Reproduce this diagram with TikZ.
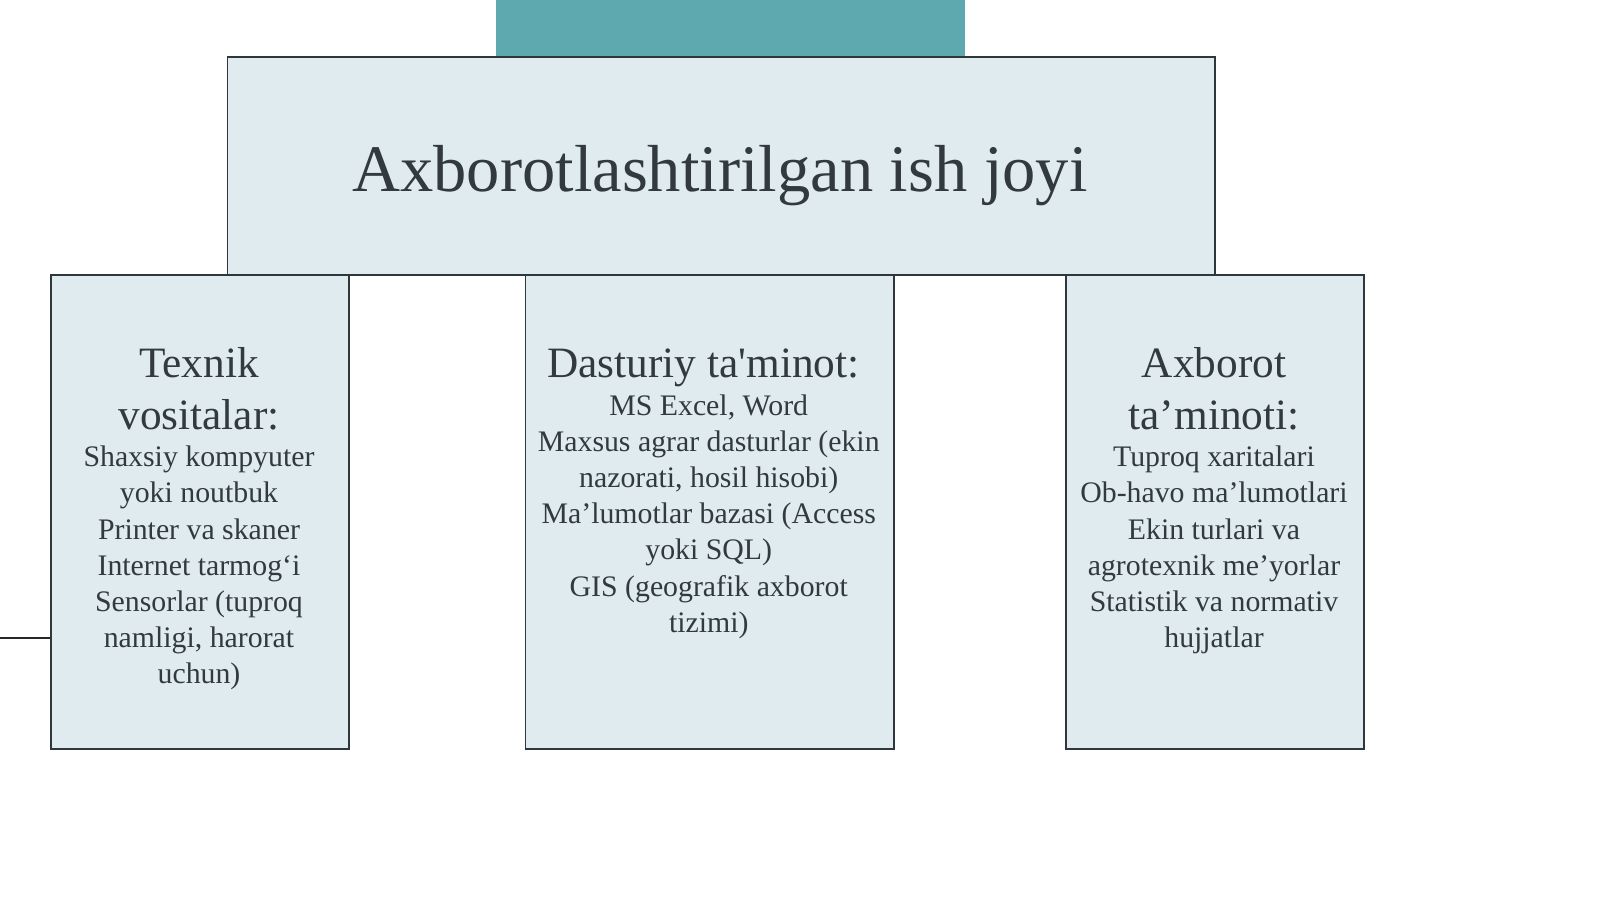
\documentclass[tikz,border=0pt]{standalone}
\usepackage{fontspec}
\setmainfont{Liberation Serif}
\definecolor{tealc}{RGB}{94,168,176}
\definecolor{boxfill}{RGB}{223,235,238}
\definecolor{linec}{RGB}{45,55,60}
\definecolor{txtc}{RGB}{50,58,61}
\newcommand\sqt{\XeTeXglyph\XeTeXcharglyph"0027 }
\begin{document}
\begin{tikzpicture}[x=1pt,y=-1pt,
  box/.style={draw=linec, line width=1.9pt, fill=boxfill, inner sep=0pt, anchor=north west},
  ttl/.style={text=txtc, font=\fontsize{66.5}{80}\selectfont, anchor=base, inner sep=0pt},
  head/.style={text=txtc, font=\fontsize{43.3}{52}\selectfont, anchor=base, inner sep=0pt},
  body/.style={text=txtc, font=\fontsize{29.8}{36}\selectfont, anchor=base, inner sep=0pt}]
\useasboundingbox (0,0) rectangle (1600,899);
\fill[white] (0,0) rectangle (1600,899);
% tab on top
\node[fill=tealc, inner sep=0pt, minimum width=469pt, minimum height=56pt, anchor=north west] (tab) at (496,0) {};
% main box
\node[box, minimum width=987.5pt, minimum height=218pt] (M) at (226.5,56) {};
\node[ttl] (Mt) at (720,191.7) {Axborotlashtirilgan ish joyi};
% child boxes
\node[box, minimum width=298pt, minimum height=474pt] (L) at (50,274) {};
\node[box, minimum width=368.5pt, minimum height=474pt] (C) at (524.5,274) {};
\node[box, minimum width=298pt, minimum height=474pt] (R) at (1065,274) {};
% left connector
\coordinate (lstart) at (0,637.7);
\draw[black!85, line width=2.2pt] (lstart) -- (L.west |- lstart);
% left texts
\node[head] (Lh1) at (199,377.5) {Texnik};
\node[head] (Lh2) at (199,429.3) {vositalar:};
\foreach \t [count=\i] in {Shaxsiy kompyuter, yoki noutbuk, Printer va skaner, Internet tarmog‘i, Sensorlar (tuproq, {namligi, harorat}, uchun)} {
  \node[body] (Lb\i) at (199,{466.7+36.2*(\i-1)}) {\t};
}
% centre texts
\node[head] (Ch1) at (703.5,377) {Dasturiy ta\sqt minot:};
\foreach \t [count=\i] in {{MS Excel, Word}, Maxsus agrar dasturlar (ekin, {nazorati, hosil hisobi)}, Ma’lumotlar bazasi (Access, yoki SQL), GIS (geografik axborot, tizimi)} {
  \node[body] (Cb\i) at (708.75,{415+36.2*(\i-1)}) {\t};
}
% right texts
\node[head] (Rh1) at (1214,377.5) {Axborot};
\node[head] (Rh2) at (1214,429.3) {ta’minoti:};
\foreach \t [count=\i] in {Tuproq xaritalari, Ob-havo ma’lumotlari, Ekin turlari va, agrotexnik me’yorlar, Statistik va normativ, hujjatlar} {
  \node[body] (Rb\i) at (1214,{466.7+36.2*(\i-1)}) {\t};
}
\end{tikzpicture}
\end{document}
